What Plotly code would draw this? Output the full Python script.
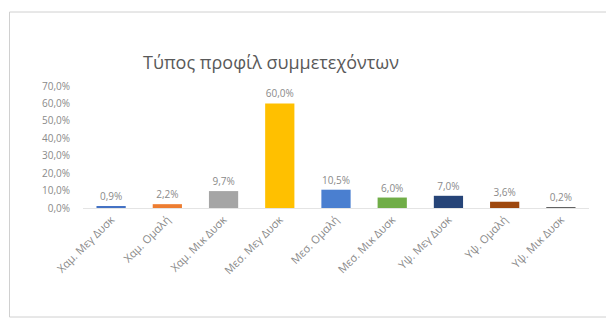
import plotly.graph_objects as go

categories = ["Χαμ. Μεγ Δυσκ", "Χαμ. Ομαλή", "Χαμ. Μικ Δυσκ",
              "Μεσ. Μεγ Δυσκ", "Μεσ. Ομαλή", "Μεσ. Μικ Δυσκ",
              "Υψ. Μεγ Δυσκ", "Υψ. Ομαλή", "Υψ. Μικ Δυσκ"]
values = [0.9, 2.2, 9.7, 60.0, 10.5, 6.0, 7.0, 3.6, 0.2]
colors = ["#4472C4", "#ED7D31", "#A5A5A5", "#FFC000", "#4A7FD0",
          "#70AD47", "#264478", "#9E480E", "#636363"]
y_ticks = [0, 10, 20, 30, 40, 50, 60, 70]
y_tick_labels = ["0,0%", "10,0%", "20,0%", "30,0%", "40,0%", "50,0%", "60,0%", "70,0%"]
title_text = "Τύπος προφίλ συμμετεχόντων"

W, H = 606, 320
L, R, T, B = 83, 17, 86, 112
pw = W - L - R
ph = H - T - B

def px_to_paper_x(px):
    return (px - L) / pw

def px_to_paper_y(py):
    return (H - B - py) / ph

fig = go.Figure()
fig.add_trace(go.Bar(
    x=categories, y=values,
    marker=dict(color=colors, line=dict(width=0)),
    text=values, texttemplate="%{y:.1f}%", textposition="outside",
    textfont=dict(size=10, color="#8a8a8a"),
    cliponaxis=False, width=0.52,
))

fig.update_layout(
    width=W, height=H,
    margin=dict(l=L, r=R, t=T, b=B),
    paper_bgcolor="white", plot_bgcolor="white",
    separators=",.",
    font=dict(family="Open Sans", color="#8a8a8a"),
    showlegend=False,
    xaxis=dict(tickangle=-45, tickfont=dict(size=11, color="#8a8a8a"),
               showline=True, linecolor="#e4e4e4", linewidth=1,
               ticks="", showgrid=False, automargin=False),
    yaxis=dict(range=[0, 70], tickvals=y_ticks, ticktext=y_tick_labels,
               tickfont=dict(size=10, color="#8a8a8a"), ticklabelstandoff=12,
               showgrid=False, zeroline=False, showline=False, ticks="",
               automargin=False),
    shapes=[dict(type="rect", xref="paper", yref="paper",
                 x0=px_to_paper_x(9.5), x1=px_to_paper_x(615),
                 y0=px_to_paper_y(317), y1=px_to_paper_y(12),
                 line=dict(color="#d0d0d0", width=1), layer="below")],
    annotations=[dict(text=title_text, xref="paper", yref="paper",
                      x=px_to_paper_x(271), y=px_to_paper_y(62),
                      xanchor="center", yanchor="middle", showarrow=False,
                      font=dict(size=18, color="#595959"))],
)

fig.write_html("out.html")
